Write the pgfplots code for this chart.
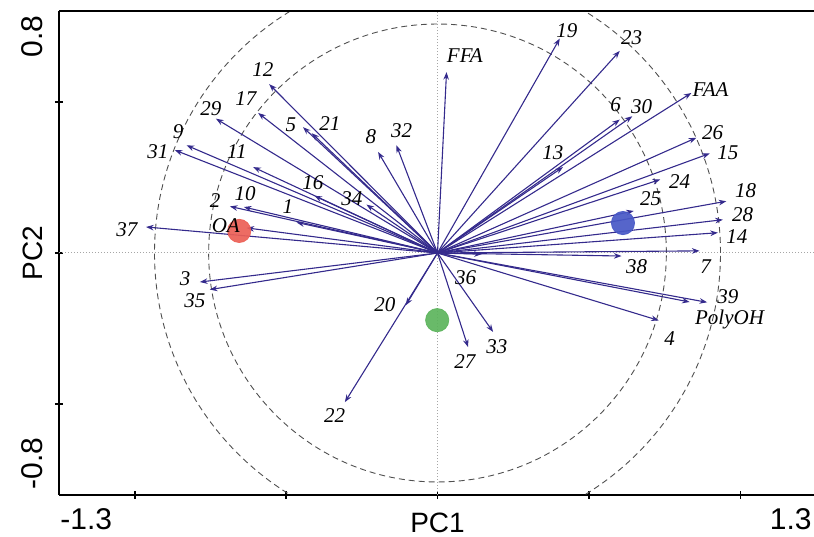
\documentclass[border=0pt]{standalone}
\usepackage{pgfplots}
\pgfplotsset{compat=1.18}
\usetikzlibrary{arrows.meta}
\usepackage{fontspec}
\setmainfont{Liberation Serif}
\newfontfamily\arial{Liberation Sans}
\definecolor{arrowcol}{RGB}{52,42,140}
\definecolor{dotred}{RGB}{236,96,86}
\definecolor{dotgreen}{RGB}{92,180,92}
\definecolor{dotblue}{RGB}{72,88,198}
\definecolor{circgray}{RGB}{80,80,80}
\begin{document}
\begin{tikzpicture}
\begin{axis}[
  name=ax,
  scale only axis,
  width=378.5bp, height=242bp,
  xmin=-1.3, xmax=1.3, ymin=-0.8, ymax=0.8,
  axis x line*=bottom, axis y line*=left,
  axis line style={-, line width=1bp, black},
  xtick={-1.04,-0.52,0,0.52,1.04}, ytick={-0.5,0,0.5},
  xticklabels={}, yticklabels={},
  tick align=center,
  major tick length=4bp,
  tick style={line width=0.8bp, black},
  clip=true,
]
% centre reference lines
\draw[densely dotted, gray!70, line width=0.5bp] (axis cs:-1.3,0) -- (axis cs:1.3,0);
\draw[densely dotted, gray!70, line width=0.5bp] (axis cs:0,-0.8) -- (axis cs:0,0.8);
% correlation circles
\draw[circgray, dash pattern=on 3bp off 2bp, line width=0.45bp] (axis cs:0,0) ellipse [x radius=0.786, y radius=0.757];
\draw[circgray, dash pattern=on 3bp off 2bp, line width=0.45bp] (axis cs:0,0) ellipse [x radius=0.972, y radius=0.936];
% loading vectors
\addplot[arrowcol, line width=0.55bp, -{Stealth[length=3.8bp,width=2.8bp]},
  quiver={u=\thisrow{u}, v=\thisrow{v}}] table {
x y u v
0 0 -0.578 0.558
0 0 -0.616 0.463
0 0 -0.761 0.444
0 0 -0.462 0.416
0 0 -0.432 0.396
0 0 -0.862 0.356
0 0 -0.902 0.340
0 0 -0.633 0.284
0 0 -0.423 0.189
0 0 -0.244 0.160
0 0 -0.713 0.154
0 0 -0.665 0.152
0 0 -0.484 0.101
0 0 -0.656 0.083
0 0 -1.001 0.086
0 0 -0.816 -0.096
0 0 -0.782 -0.121
0 0 0.031 0.598
0 0 -0.204 0.334
0 0 -0.141 0.356
0 0 0.420 0.709
0 0 0.626 0.668
0 0 0.872 0.529
0 0 0.626 0.441
0 0 0.669 0.452
0 0 0.889 0.381
0 0 0.935 0.329
0 0 0.431 0.284
0 0 0.765 0.243
0 0 0.674 0.139
0 0 0.992 0.171
0 0 0.980 0.110
0 0 0.963 0.067
0 0 0.900 0.007
0 0 0.632 -0.010
0 0 0.926 -0.163
0 0 0.866 -0.162
0 0 0.760 -0.223
0 0 -0.109 -0.173
0 0 -0.318 -0.493
0 0 0.105 -0.311
0 0 0.191 -0.261
0 0 0.152 -0.004
};
% group centroids
\addplot[only marks, mark=*, mark size=5.8bp, color=dotred, draw=dotred, fill=dotred, opacity=0.92] coordinates {(-0.681,0.073)};
\addplot[only marks, mark=*, mark size=5.8bp, color=dotgreen, draw=dotgreen, fill=dotgreen, opacity=0.92] coordinates {(-0.001,-0.222)};
\addplot[only marks, mark=*, mark size=5.8bp, color=dotblue, draw=dotblue, fill=dotblue, opacity=0.92] coordinates {(0.637,0.099)};
% variable labels
\addplot[draw=none, mark=none, nodes near coords, point meta=explicit symbolic,
  every node near coord/.append style={anchor=center, inner sep=0pt, font=\fontsize{10.5bp}{12bp}\selectfont\itshape, text=black}]
  table[meta=lab] {
x y lab
-0.600 0.607 12
-0.658 0.511 17
-0.778 0.478 29
-0.504 0.425 5
-0.370 0.429 21
-0.891 0.402 9
-0.960 0.336 31
-0.689 0.336 11
-0.428 0.234 16
-0.294 0.181 34
-0.764 0.174 2
-0.661 0.197 10
-0.514 0.154 1
-0.727 0.091 OA
-1.067 0.078 37
-0.867 -0.084 3
-0.833 -0.156 35
0.094 0.654 FFA
-0.229 0.386 8
-0.123 0.406 32
0.444 0.736 19
0.667 0.713 23
0.938 0.541 FAA
0.612 0.492 6
0.701 0.485 30
0.945 0.399 26
0.997 0.330 15
0.396 0.333 13
0.832 0.237 24
0.732 0.181 25
1.058 0.207 18
1.048 0.128 28
1.028 0.055 14
0.921 -0.044 7
0.684 -0.044 38
0.997 -0.143 39
1.003 -0.219 PolyOH
0.797 -0.282 4
-0.181 -0.170 20
-0.353 -0.537 22
0.094 -0.358 27
0.204 -0.308 33
0.097 -0.080 36
};
\end{axis}
% top frame line
\draw[line width=1bp, black] (ax.north west) -- (ax.north east);
% axis texts
\node[rotate=90, anchor=south east, inner sep=0pt, font=\arial\fontsize{15bp}{17bp}\selectfont] at ([shift={(-8bp,-2bp)}]ax.north west) {0.8};
\node[rotate=90, anchor=south west, inner sep=0pt, font=\arial\fontsize{15bp}{17bp}\selectfont] at ([shift={(-8bp,2.5bp)}]ax.south west) {-0.8};
\node[rotate=90, anchor=south, inner sep=0pt, font=\arial\fontsize{14bp}{16bp}\selectfont] at ([shift={(-8bp,0bp)}]ax.west) {PC2};
\node[anchor=north west, inner sep=0pt, font=\arial\fontsize{15bp}{17bp}\selectfont] at ([shift={(0.5bp,-6.5bp)}]ax.south west) {-1.3};
\node[anchor=north east, inner sep=0pt, font=\arial\fontsize{15bp}{17bp}\selectfont] at ([shift={(-2bp,-6.5bp)}]ax.south east) {1.3};
\node[anchor=north, inner sep=0pt, font=\arial\fontsize{14bp}{16bp}\selectfont] at ([shift={(0bp,-9bp)}]ax.south) {PC1};
\pgfresetboundingbox
\path[use as bounding box] ([shift={(-29.5bp,-21bp)}]ax.south west) rectangle ([shift={(-1bp,5.5bp)}]ax.north east);
\end{tikzpicture}
\end{document}
